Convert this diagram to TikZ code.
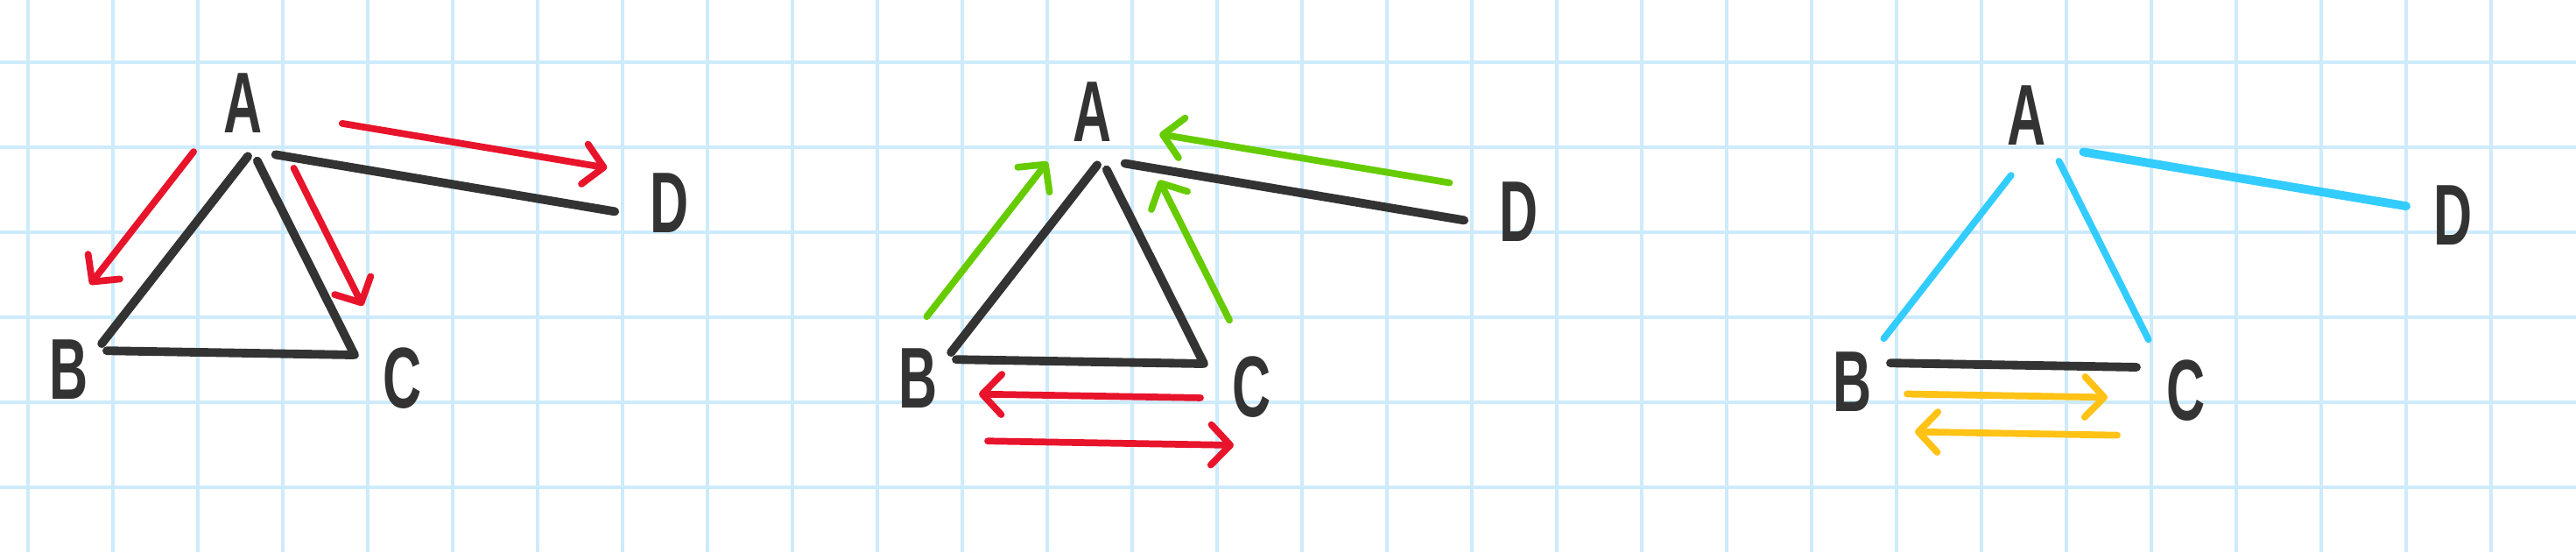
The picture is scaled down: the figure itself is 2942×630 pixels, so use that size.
\documentclass[tikz,border=0pt]{standalone}
\usepackage{fontspec}
\setsansfont{Liberation Sans}
\usetikzlibrary{arrows.meta}

\definecolor{ink}{HTML}{333333}
\definecolor{gridblue}{HTML}{CDEBFB}
\definecolor{penred}{HTML}{E8142B}
\definecolor{pengreen}{HTML}{66CC00}
\definecolor{pencyan}{HTML}{33CCFF}
\definecolor{penyellow}{HTML}{FFC215}

\newcommand{\hletter}[1]{\scalebox{0.62}[1]{#1}}

\tikzset{
	vtx/.style={inner sep=0pt, outer sep=0pt, minimum size=0pt},
	lbl/.style={text=ink, font=\sffamily\bfseries\fontsize{28}{28}\selectfont, inner sep=0pt},
	blk/.style={ink, line width=2.8pt, line cap=round},
	pen/.style={line width=2.2pt, line cap=round, line join=round, ->},
}

\begin{document}
\begin{tikzpicture}[x=0.01cm, y=-0.01cm, >={Straight Barb[length=2.2mm, width=4.6mm, round]}]
			% Paper
			\useasboundingbox (0,0) rectangle (2942,630);
			\fill[white] (0,0) rectangle (2942,630);
			\foreach \gx in {32,129,...,2900} \draw[gridblue, line width=1.1pt] (\gx,0) -- (\gx,630);
			\foreach \gy in {71,168,...,630} \draw[gridblue, line width=1.1pt] (0,\gy) -- (2942,\gy);

			% Nodes, first graph
			\node[vtx] (A1) at (288,172) {};
			\node[vtx] (B1) at (110,400) {};
			\node[vtx] (C1) at (405,405) {};
			\node[vtx] (D1) at (712,243) {};
			\node[lbl] (lA1) at (278,118) {\hletter{A}};
			\node[lbl] (lB1) at (79,422) {\hletter{B}};
			\node[lbl] (lC1) at (460,432) {\hletter{C}};
			\node[lbl] (lD1) at (765,232) {\hletter{D}};

			\draw[blk, shorten <=0.08cm, shorten >=0.1cm] (A1) -- (B1);
			\draw[blk, shorten <=0.13cm] (A1) -- (C1);
			\draw[blk, shorten <=0.12cm, shorten >=0.02cm] (B1) -- (C1);
			\draw[blk, shorten <=0.27cm, shorten >=0.1cm] (A1) -- (D1);

			% Red: out of A
			\draw[pen, penred, shorten <=0.42cm, shorten >=0.55cm, transform canvas={shift={(-41,-32)}}] (A1) -- (B1);
			\draw[pen, penred, shorten <=0.39cm, shorten >=0.46cm, transform canvas={shift={(30,-15)}}] (A1) -- (C1);
			\draw[pen, penred, shorten <=0.96cm, shorten >=0.27cm, transform canvas={shift={(8,-47)}}] (A1) -- (D1);

			% Nodes, second graph
			\begin{scope}[shift={(970,10)}]
			\node[vtx] (A2) at (288,172) {};
			\node[vtx] (B2) at (110,400) {};
			\node[vtx] (C2) at (405,405) {};
			\node[vtx] (D2) at (712,243) {};
			\node[lbl] (lA2) at (278,118) {\hletter{A}};
			\node[lbl] (lB2) at (79,422) {\hletter{B}};
			\node[lbl] (lC2) at (460,432) {\hletter{C}};
			\node[lbl] (lD2) at (765,232) {\hletter{D}};
			\end{scope}

			\draw[blk, shorten <=0.08cm, shorten >=0.1cm] (A2) -- (B2);
			\draw[blk, shorten <=0.13cm] (A2) -- (C2);
			\draw[blk, shorten <=0.12cm, shorten >=0.02cm] (B2) -- (C2);
			\draw[blk, shorten <=0.27cm, shorten >=0.1cm] (A2) -- (D2);

			% Green: into A
			\draw[pen, pengreen, shorten <=0.25cm, shorten >=0.40cm, transform canvas={shift={(-37,-29)}}] (B2) -- (A2);
			\draw[pen, pengreen, shorten <=0.31cm, shorten >=0.51cm, transform canvas={shift={(43,-22)}}] (C2) -- (A2);
			\draw[pen, pengreen, shorten <=0.33cm, shorten >=0.61cm, transform canvas={shift={(6,-39)}}] (D2) -- (A2);

			% Red: both ways between B and C
			\draw[pen, penred, shorten <=0.04cm, shorten >=0.38cm, transform canvas={shift={(0,39)}}] (C2) -- (B2);
			\draw[pen, penred, shorten <=0.14cm, shorten >=0cm, transform canvas={shift={(34,93)}}] (B2) -- (C2);

			% Nodes, third graph
			\begin{scope}[shift={(2037,14)}]
			\node[vtx] (A3) at (288,172) {};
			\node[vtx] (B3) at (110,400) {};
			\node[vtx] (C3) at (405,405) {};
			\node[vtx] (D3) at (712,243) {};
			\node[lbl] (lA3) at (278,118) {\hletter{A}};
			\node[lbl] (lB3) at (79,422) {\hletter{B}};
			\node[lbl] (lC3) at (460,432) {\hletter{C}};
			\node[lbl] (lD3) at (765,232) {\hletter{D}};
			\end{scope}

			% Cyan edges
			\draw[pencyan, line width=2.2pt, line cap=round, shorten <=0.28cm, shorten >=0.25cm, transform canvas={shift={(-11,-8)}}] (A3) -- (B3);
			\draw[pencyan, line width=2.2pt, line cap=round, shorten <=0.10cm, shorten >=0.23cm, transform canvas={shift={(22,-11)}}] (A3) -- (C3);
			\draw[pencyan, line width=2.8pt, line cap=round, shorten <=0.51cm, shorten >=0.05cm, transform canvas={shift={(4,-21)}}] (A3) -- (D3);
			\draw[blk, shorten <=0.12cm, shorten >=0.02cm] (B3) -- (C3);

			% Yellow: both ways between B and C
			\draw[pen, penyellow, shorten <=0.31cm, shorten >=0.35cm, transform canvas={shift={(0,35)}}] (B3) -- (C3);
			\draw[pen, penyellow, shorten <=0.24cm, shorten >=0.40cm, transform canvas={shift={(0,78)}}] (C3) -- (B3);

\end{tikzpicture}
\end{document}
